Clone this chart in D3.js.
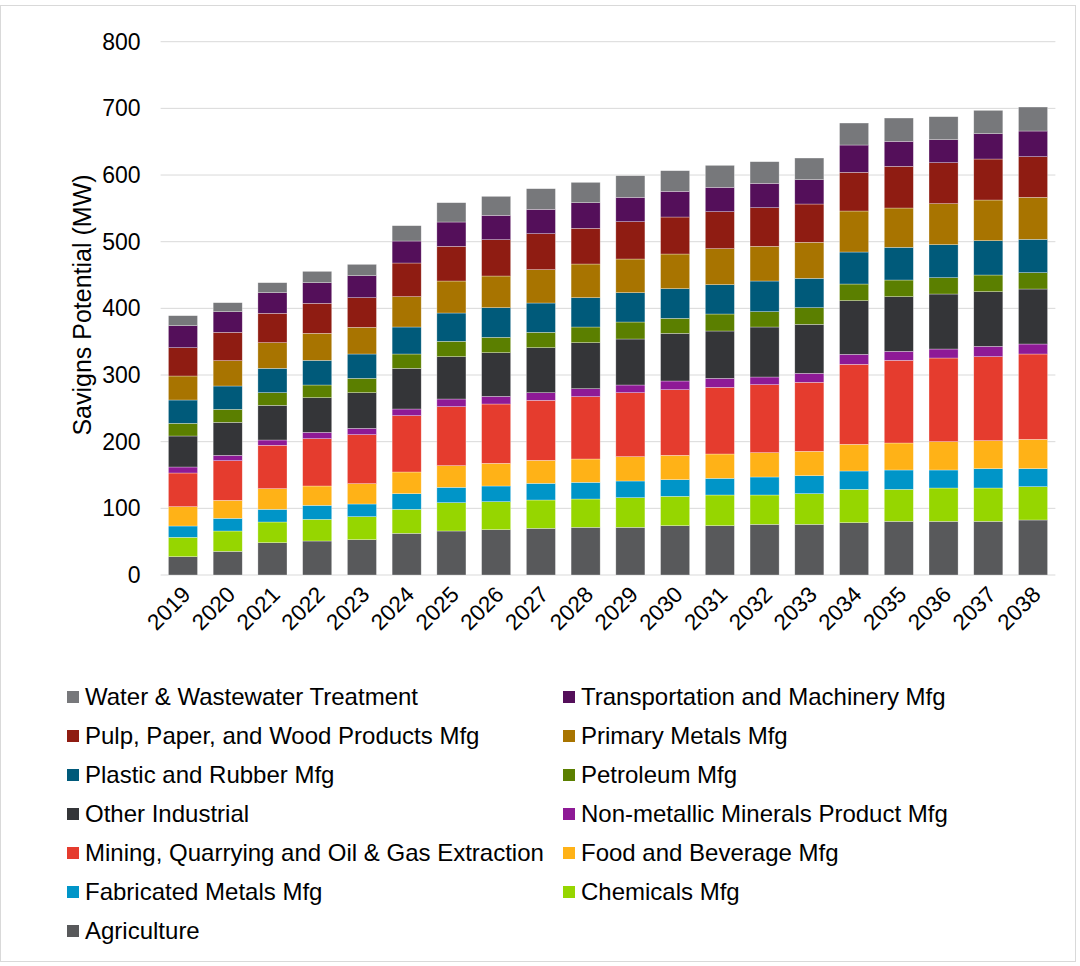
<!DOCTYPE html>
<html>
<head>
<meta charset="utf-8">
<script src="https://cdn.jsdelivr.net/npm/d3@7"></script>
<style>
  body { margin: 0; background: #fff; }
  svg { font-family: "Liberation Sans", Arial, sans-serif; }
</style>
</head>
<body>
<div class="chart"></div>
<script>
// years on the x axis
var years = ["2019", "2020", "2021", "2022", "2023", "2024", "2025", "2026", "2027", "2028",
             "2029", "2030", "2031", "2032", "2033", "2034", "2035", "2036", "2037", "2038"];

// sectors, stacked bottom to top
var sectors = ["Agriculture", "Chemicals Mfg", "Fabricated Metals Mfg", "Food and Beverage Mfg",
               "Mining, Quarrying and Oil & Gas Extraction", "Non-metallic Minerals Product Mfg",
               "Other Industrial", "Petroleum Mfg", "Plastic and Rubber Mfg", "Primary Metals Mfg",
               "Pulp, Paper, and Wood Products Mfg", "Transportation and Machinery Mfg",
               "Water & Wastewater Treatment"];

var sectorColors = ["#58595b", "#96d600", "#0095c8", "#ffb217", "#e53c2e", "#8e1a96",
                    "#343538", "#5b7f00", "#005a7a", "#a87400", "#8f1c12", "#540f5a", "#77787b"];

// savings potential (MW) per sector, one value per year
var agriculture    = [27.5, 35.5, 48.5, 51, 53, 62.5, 66, 68, 70, 71.5, 71.5, 74, 74, 76, 76, 78.5, 80.5, 80.5, 80.5, 82.5];
var chemicals      = [29, 30.5, 31, 32.5, 34.5, 36, 42.5, 42, 42.5, 42.5, 44.5, 44, 46, 44, 46, 50, 48, 50, 50, 50];
var fabricated     = [17, 19, 19, 21, 19, 23.5, 23, 23.5, 25, 25, 25, 25, 25, 27, 27, 27.5, 29, 27, 29, 27];
var foodBeverage   = [29, 27, 31, 29, 30.5, 32.5, 32.5, 34, 34.5, 35, 36.5, 36.5, 36.5, 36.5, 36.5, 40, 40.5, 42.5, 42, 44];
var mining         = [50.5, 59.5, 65, 71, 73.5, 84.5, 88.5, 89, 90, 93.5, 96, 98.5, 100, 102, 103.5, 120, 124, 125.5, 126, 128];
var nonMetallic    = [9, 8, 8, 9.5, 9.5, 10, 11.5, 11.5, 11.5, 12, 11.5, 13, 13.5, 11.5, 13.5, 15, 13.5, 13.5, 15.5, 15];
var otherIndustrial= [46.5, 49.5, 52, 52, 53.5, 61, 63.5, 65.5, 67.5, 69, 69, 71.5, 71, 75, 73.5, 80.5, 82, 82.5, 82, 82.5];
var petroleum      = [19, 19.5, 19, 19, 21.5, 21.5, 23, 23, 23, 23.5, 25.5, 22.5, 25.5, 23, 25, 25, 25, 24.5, 25, 24.5];
var plasticRubber  = [35, 35, 36.5, 37, 36.5, 40.5, 42.5, 44.5, 44, 44, 44, 44.5, 44, 46, 44, 48, 49, 49.5, 51.5, 50];
var primaryMetals  = [36, 38, 38.5, 40.5, 40, 45.5, 48, 47.5, 50, 50.5, 50.5, 52, 54, 52, 54, 61.5, 59, 61.5, 61, 63];
var pulpPaper      = [42.5, 42.5, 44, 45, 44.5, 50.5, 52, 54.5, 54, 53.5, 56, 55.5, 55.5, 58, 57.5, 58, 62.5, 61.5, 61.5, 61];
var transportation = [33, 31, 31, 31, 33, 33, 36.5, 36.5, 36.5, 38.5, 36.5, 38.5, 36.5, 36.5, 36.5, 41, 37.5, 34.5, 38, 38.5];
var water          = [15, 13.5, 15, 17, 17, 23, 29, 28.5, 31, 30.5, 32.5, 31, 33, 32.5, 32.5, 33, 35, 34.5, 35, 36];

var yTicks = [0, 100, 200, 300, 400, 500, 600, 700, 800];

// legend order, read row by row (left column first)
var legendOrder = [12, 11, 10, 9, 8, 7, 6, 5, 4, 3, 2, 1, 0];

window.onload = function() {
  var series = [agriculture, chemicals, fabricated, foodBeverage, mining, nonMetallic,
                otherIndustrial, petroleum, plasticRubber, primaryMetals, pulpPaper,
                transportation, water];

  // build a table for d3.stack
  var table = years.map(function(y, i) {
    var row = {year: y};
    sectors.forEach(function(s, j) { row[s] = series[j][i]; });
    return row;
  });

  var width = 1080, height = 966;
  var margin = {top: 41.7, right: 24.6, bottom: 391, left: 160.6};

  var svg = d3.select(".chart")
              .append("svg")
              .attr("width", width)
              .attr("height", height);

  // thin frame round the whole picture
  svg.append("rect")
     .attr("x", 0.5).attr("y", 5.5)
     .attr("width", 1075).attr("height", 956)
     .attr("fill", "none")
     .attr("stroke", "#d9d9d9");

  var x = d3.scaleBand()
            .domain(years)
            .range([margin.left, width - margin.right])
            .paddingInner(0.35)
            .paddingOuter(0.175);

  var y = d3.scaleLinear()
            .domain([0, 800])
            .range([height - margin.bottom, margin.top]);

  // gridlines
  svg.append("g")
     .selectAll("line")
     .data(yTicks)
     .enter()
     .append("line")
     .attr("x1", margin.left)
     .attr("x2", width - margin.right)
     .attr("y1", function(d) { return y(d); })
     .attr("y2", function(d) { return y(d); })
     .attr("stroke", "#d9d9d9")
     .attr("stroke-width", 1);

  // y axis labels
  var yAxis = d3.axisLeft(y).tickValues(yTicks).tickSize(0).tickPadding(20);
  var gy = svg.append("g")
              .attr("transform", "translate(" + margin.left + ",0)")
              .call(yAxis);
  gy.select(".domain").remove();
  gy.selectAll("text")
    .style("font-size", "23px")
    .style("font-family", "Liberation Sans, Arial, sans-serif")
    .attr("fill", "#000");

  svg.append("text")
     .attr("transform", "translate(91,305) rotate(-90)")
     .attr("text-anchor", "middle")
     .style("font-size", "25px")
     .attr("fill", "#000")
     .text("Savigns Potential (MW)");

  // stacked bars
  var stack = d3.stack().keys(sectors);
  var layers = stack(table);

  svg.append("g")
     .selectAll("g")
     .data(layers)
     .enter()
     .append("g")
     .attr("fill", function(d, i) { return sectorColors[i]; })
     .selectAll("rect")
     .data(function(d) { return d; })
     .enter()
     .append("rect")
     .attr("x", function(d) { return x(d.data.year); })
     .attr("y", function(d) { return y(d[1]); })
     .attr("width", x.bandwidth())
     .attr("height", function(d) { return y(d[0]) - y(d[1]); })
     .attr("stroke", "#ffffff")
     .attr("stroke-opacity", 0.5)
     .attr("stroke-width", 0.6);

  // x axis labels, rotated
  var xAxis = d3.axisBottom(x).tickSize(0).tickPadding(0);
  var gx = svg.append("g")
              .attr("transform", "translate(0," + y(0) + ")")
              .call(xAxis);
  gx.select(".domain").remove();
  gx.selectAll("text")
    .style("font-size", "22.5px")
    .style("font-family", "Liberation Sans, Arial, sans-serif")
    .attr("fill", "#000")
    .attr("text-anchor", "end")
    .attr("dy", "0")
    .attr("transform", "translate(9,21) rotate(-45)");

  // legend in two columns
  var legend = svg.append("g").attr("class", "legend");
  var items = legend.selectAll("g")
                    .data(legendOrder)
                    .enter()
                    .append("g")
                    .attr("transform", function(d, i) {
                      var col = i % 2, row = Math.floor(i / 2);
                      return "translate(" + (col === 0 ? 67 : 563) + "," + (697 + row * 39) + ")";
                    });

  items.append("rect")
       .attr("x", 0).attr("y", -6)
       .attr("width", 12).attr("height", 12)
       .attr("fill", function(d) { return sectorColors[d]; });

  items.append("text")
       .attr("x", 18)
       .attr("dy", "0.35em")
       .style("font-size", "24px")
       .attr("fill", "#000")
       .text(function(d) { return sectors[d]; });
};
</script>
</body>
</html>
